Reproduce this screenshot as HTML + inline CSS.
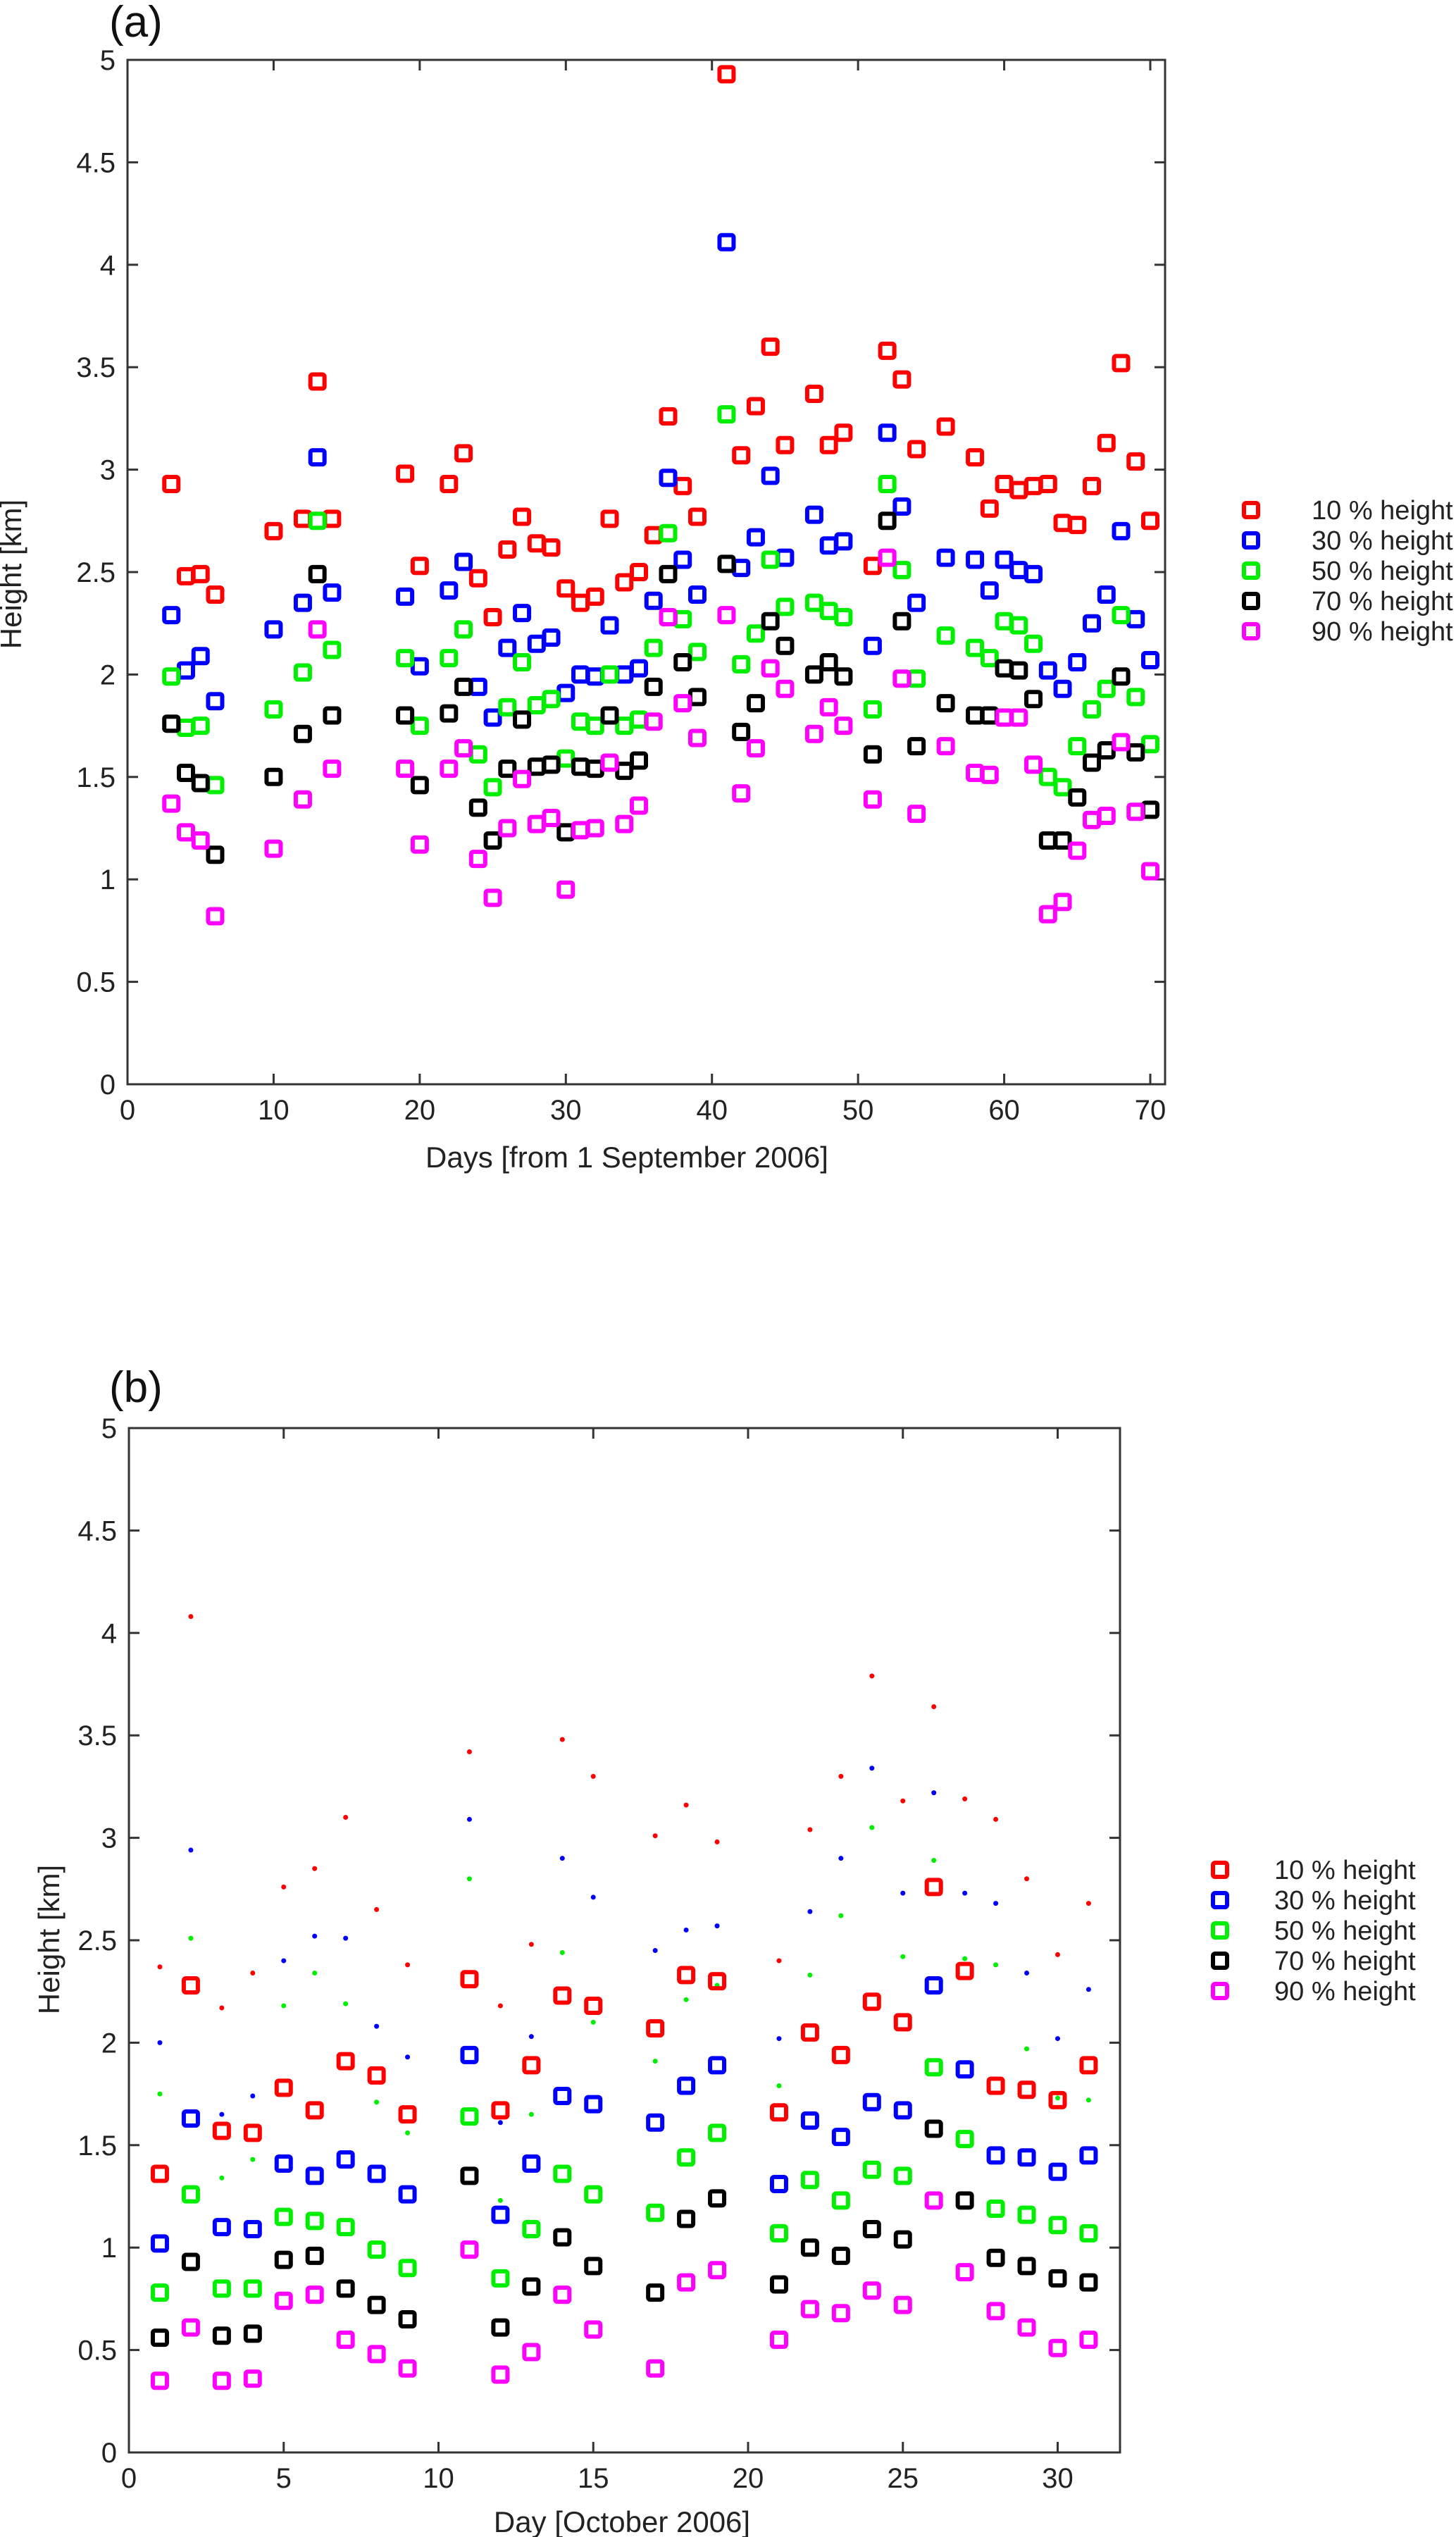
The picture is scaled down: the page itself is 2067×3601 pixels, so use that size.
<!DOCTYPE html>
<html><head><meta charset="utf-8"><style>
html,body{margin:0;padding:0;background:#fff;}
svg{display:block;font-family:"Liberation Sans",sans-serif;}
</style></head><body>
<svg id="fig" width="2067" height="3601" viewBox="0 0 2067 3601" xmlns="http://www.w3.org/2000/svg"></svg>
<script>
// ---------- Panel (a) data ----------
const daysA = [3,4,5,6,10,12,13,14,19,20,22,23,24,25,26,27,28,29,30,31,32,33,34,35,36,37,38,39,41,42,43,44,45,47,48,49,51,52,53,54,56,58,59,60,61,62,63,64,65,66,67,68,69,70];
const a10 = [2.93,2.48,2.49,2.39,2.70,2.76,3.43,2.76,2.98,2.53,2.93,3.08,2.47,2.28,2.61,2.77,2.64,2.62,2.42,2.35,2.38,2.76,2.45,2.50,2.68,3.26,2.92,2.77,4.93,3.07,3.31,3.60,3.12,3.37,3.12,3.18,2.53,3.58,3.44,3.10,3.21,3.06,2.81,2.93,2.90,2.92,2.93,2.74,2.73,2.92,3.13,3.52,3.04,2.75];
const a30 = [2.29,2.02,2.09,1.87,2.22,2.35,3.06,2.40,2.38,2.04,2.41,2.55,1.94,1.79,2.13,2.30,2.15,2.18,1.91,2.00,1.99,2.24,2.00,2.03,2.36,2.96,2.56,2.39,4.11,2.52,2.67,2.97,2.57,2.78,2.63,2.65,2.14,3.18,2.82,2.35,2.57,2.56,2.41,2.56,2.51,2.49,2.02,1.93,2.06,2.25,2.39,2.70,2.27,2.07];
const a50 = [1.99,1.74,1.75,1.46,1.83,2.01,2.75,2.12,2.08,1.75,2.08,2.22,1.61,1.45,1.84,2.06,1.85,1.88,1.59,1.77,1.75,2.00,1.75,1.78,2.13,2.69,2.27,2.11,3.27,2.05,2.20,2.56,2.33,2.35,2.31,2.28,1.83,2.93,2.51,1.98,2.19,2.13,2.08,2.26,2.24,2.15,1.50,1.45,1.65,1.83,1.93,2.29,1.89,1.66];
const a70 = [1.76,1.52,1.47,1.12,1.50,1.71,2.49,1.80,1.80,1.46,1.81,1.94,1.35,1.19,1.54,1.78,1.55,1.56,1.23,1.55,1.54,1.80,1.53,1.58,1.94,2.49,2.06,1.89,2.54,1.72,1.86,2.26,2.14,2.00,2.06,1.99,1.61,2.75,2.26,1.65,1.86,1.80,1.80,2.03,2.02,1.88,1.19,1.19,1.40,1.57,1.63,1.99,1.62,1.34];
const a90 = [1.37,1.23,1.19,0.82,1.15,1.39,2.22,1.54,1.54,1.17,1.54,1.64,1.10,0.91,1.25,1.49,1.27,1.30,0.95,1.24,1.25,1.57,1.27,1.36,1.77,2.28,1.86,1.69,2.29,1.42,1.64,2.03,1.93,1.71,1.84,1.75,1.39,2.57,1.98,1.32,1.65,1.52,1.51,1.79,1.79,1.56,0.83,0.89,1.14,1.29,1.31,1.67,1.33,1.04];

// ---------- Panel (b) data ----------
const daysB = [1,2,3,4,5,6,7,8,9,11,12,13,14,15,17,18,19,21,22,23,24,25,26,27,28,29,30,31];
const b10 = [1.36,2.28,1.57,1.56,1.78,1.67,1.91,1.84,1.65,2.31,1.67,1.89,2.23,2.18,2.07,2.33,2.30,1.66,2.05,1.94,2.20,2.10,2.76,2.35,1.79,1.77,1.72,1.89];
const b30 = [1.02,1.63,1.10,1.09,1.41,1.35,1.43,1.36,1.26,1.94,1.16,1.41,1.74,1.70,1.61,1.79,1.89,1.31,1.62,1.54,1.71,1.67,2.28,1.87,1.45,1.44,1.37,1.45];
const b50 = [0.78,1.26,0.80,0.80,1.15,1.13,1.10,0.99,0.90,1.64,0.85,1.09,1.36,1.26,1.17,1.44,1.56,1.07,1.33,1.23,1.38,1.35,1.88,1.53,1.19,1.16,1.11,1.07];
const b70 = [0.56,0.93,0.57,0.58,0.94,0.96,0.80,0.72,0.65,1.35,0.61,0.81,1.05,0.91,0.78,1.14,1.24,0.82,1.00,0.96,1.09,1.04,1.58,1.23,0.95,0.91,0.85,0.83];
const b90 = [0.35,0.61,0.35,0.36,0.74,0.77,0.55,0.48,0.41,0.99,0.38,0.49,0.77,0.60,0.41,0.83,0.89,0.55,0.70,0.68,0.79,0.72,1.23,0.88,0.69,0.61,0.51,0.55];
const b10dot = [2.37,4.08,2.17,2.34,2.76,2.85,3.10,2.65,2.38,3.42,2.18,2.48,3.48,3.30,3.01,3.16,2.98,2.40,3.04,3.30,3.79,3.18,3.64,3.19,3.09,2.80,2.43,2.68];
const b30dot = [2.00,2.94,1.65,1.74,2.40,2.52,2.51,2.08,1.93,3.09,1.61,2.03,2.90,2.71,2.45,2.55,2.57,2.02,2.64,2.90,3.34,2.73,3.22,2.73,2.68,2.34,2.02,2.26];
const b50dot = [1.75,2.51,1.34,1.43,2.18,2.34,2.19,1.71,1.56,2.80,1.23,1.65,2.44,2.10,1.91,2.21,2.28,1.79,2.33,2.62,3.05,2.42,2.89,2.41,2.38,1.97,1.73,1.72];

const yTicks = [0,0.5,1,1.5,2,2.5,3,3.5,4,4.5,5];
const yTickLabels = ["0","0.5","1","1.5","2","2.5","3","3.5","4","4.5","5"];
const xTicksA = [0,10,20,30,40,50,60,70];
const xTicksB = [0,5,10,15,20,25,30];
const legendLabels = ["10 % height","30 % height","50 % height","70 % height","90 % height"];
const colors = ["#ff0000","#0000ff","#00ee00","#000000","#ff00ff"];

const NS = "http://www.w3.org/2000/svg";
const svg = document.getElementById('fig');
function mk(tag, attrs, parent){
  const e = document.createElementNS(NS, tag);
  for (const k in attrs) e.setAttribute(k, attrs[k]);
  (parent||svg).appendChild(e);
  return e;
}

function panel(cfg){
  const g = mk('g', {});
  
  
  const X = v => cfg.x0 + v / cfg.xmax * (cfg.xEndPx - cfg.x0);
  const Y = v => cfg.y0 - v / 5 * (cfg.y0 - cfg.y5);
  const fr = mk('rect', {x:cfg.x0, y:cfg.y5, width:cfg.right-cfg.x0, height:cfg.y0-cfg.y5, fill:'none', stroke:'#333', 'stroke-width':3}, g);
  
  
  yTicks.forEach((t,i) => {
    const y = Y(t);
    mk('line', {x1:cfg.x0, x2:cfg.x0+15, y1:y, y2:y, stroke:'#333','stroke-width':3}, g);
    mk('line', {x1:cfg.right, x2:cfg.right-15, y1:y, y2:y, stroke:'#333','stroke-width':3}, g);
    const tx = mk('text', {x:cfg.x0-17, y:y+14, 'text-anchor':'end', 'font-size':40, fill:'#222'}, g);
    tx.textContent = yTickLabels[i];
    
    
  });
  cfg.xticks.forEach(t => {
    const x = X(t);
    mk('line', {x1:x, x2:x, y1:cfg.y0, y2:cfg.y0-15, stroke:'#333','stroke-width':3}, g);
    mk('line', {x1:x, x2:x, y1:cfg.y5, y2:cfg.y5+15, stroke:'#333','stroke-width':3}, g);
    const tx = mk('text', {x:x, y:cfg.y0+50, 'text-anchor':'middle', 'font-size':40, fill:'#222'}, g);
    tx.textContent = String(t);
    
    
  });
  (cfg.dots||[]).forEach(d => {
    cfg.days.forEach((day,i) => {
      const c = mk('circle', {cx:X(day), cy:Y(d.vals[i]), r:3.5, fill:d.color}, g);
      
      
    });
  });
  cfg.series.forEach((s, si) => {
    cfg.days.forEach((day,i) => {
      const r = mk('rect', {x:X(day)-10, y:Y(s[i])-10, width:20, height:20, rx:3, fill:'none', stroke:colors[si], 'stroke-width':6}, g);
      
      
    });
  });
  const pl = mk('text', {x:cfg.tagX, y:cfg.tagY, 'font-size':62, fill:'#111'}, g);
  pl.textContent = cfg.tag;
  
  
  const xl = mk('text', {x:cfg.xlX, y:cfg.xlY, 'text-anchor':'middle', 'font-size':42, fill:'#222'}, g);
  xl.textContent = cfg.xlabel;
  
  
  const yl = mk('text', {x:0, y:0, 'text-anchor':'middle', 'font-size':42, fill:'#222', transform:`translate(${cfg.ylX},${cfg.ylY}) rotate(-90)`}, g);
  yl.textContent = 'Height [km]';
  
  
  legendLabels.forEach((lab, i) => {
    const ly = cfg.legY + i*cfg.legDy;
    const m = mk('rect', {x:cfg.legX-10, y:ly-10, width:20, height:20, rx:3, fill:'none', stroke:colors[i], 'stroke-width':6}, g);
    
    
    const t = mk('text', {x:cfg.legTX, y:ly+13, 'font-size':38, fill:'#222'}, g);
    t.textContent = lab;
    
    
  });
}

panel({name:'panel-a', x0:181, xEndPx:1633, xmax:70, right:1654, y5:85, y0:1539,
  xticks:xTicksA, days:daysA, series:[a10,a30,a50,a70,a90], dots:[],
  tag:'(a)', tagX:155, tagY:52, xlabel:'Days [from 1 September 2006]', xlX:890, xlY:1657, ylX:30, ylY:815,
  legX:1776, legY:724, legDy:43, legTX:1862});

panel({name:'panel-b', x0:183, xEndPx:1501.5, xmax:30, right:1590, y5:2027, y0:3481,
  xticks:xTicksB, days:daysB, series:[b10,b30,b50,b70,b90],
  dots:[{color:colors[0], vals:b10dot},{color:colors[1], vals:b30dot},{color:colors[2], vals:b50dot}],
  tag:'(b)', tagX:155, tagY:1990, xlabel:'Day [October 2006]', xlX:883, xlY:3594, ylX:84, ylY:2753,
  legX:1732, legY:2654, legDy:43, legTX:1809});
</script>
</body></html>
